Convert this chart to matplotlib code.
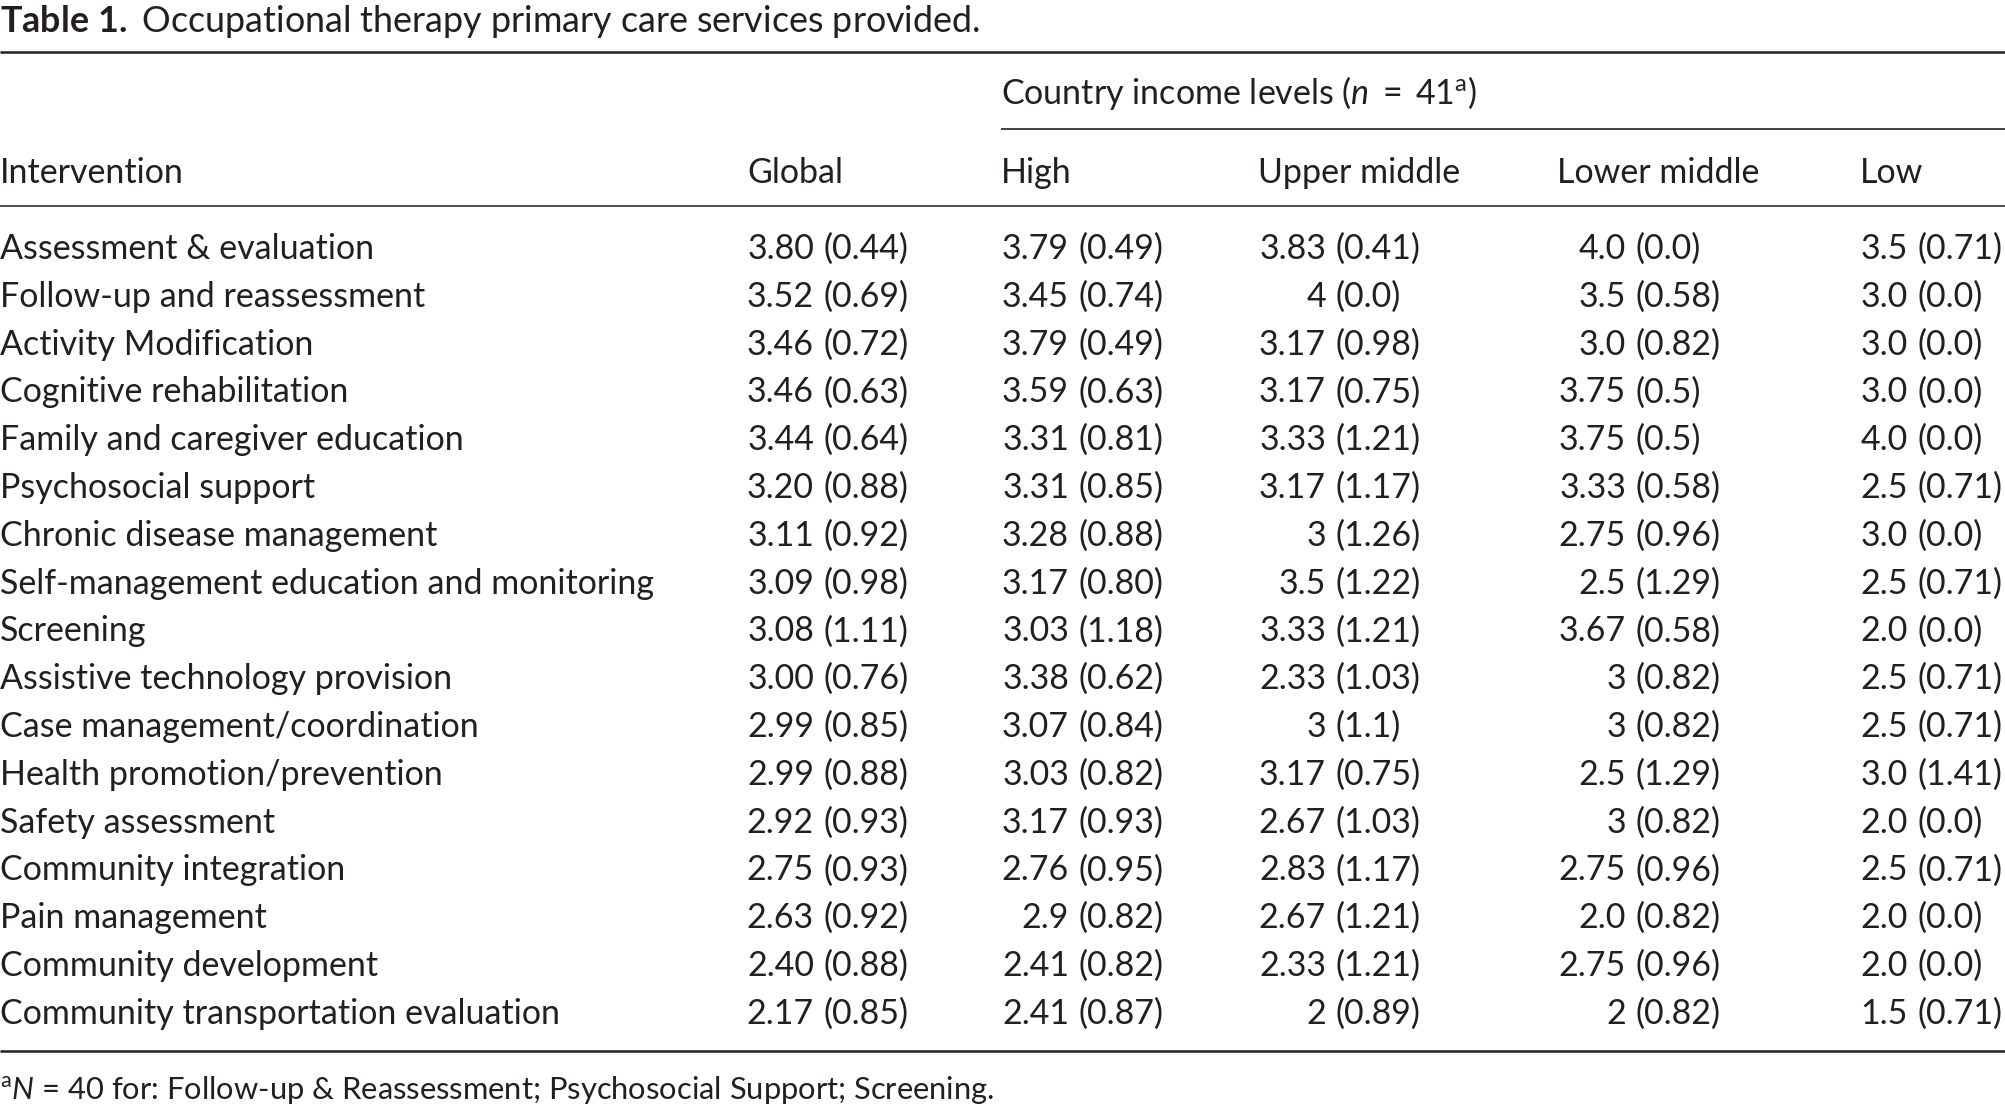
import matplotlib
matplotlib.use("Agg")
import matplotlib.pyplot as plt

plt.rcParams['font.family'] = ['Lato', 'DejaVu Sans']
plt.rcParams['mathtext.fontset'] = 'custom'
plt.rcParams['mathtext.rm'] = 'Lato'
plt.rcParams['mathtext.it'] = 'Lato:italic'
plt.rcParams['mathtext.bf'] = 'Lato:bold'

### ---------------------------------------------------------------------- ###
### table data (mean and SD kept as printed)

interventions = [
    "Assessment & evaluation",
    "Follow-up and reassessment",
    "Activity Modification",
    "Cognitive rehabilitation",
    "Family and caregiver education",
    "Psychosocial support",
    "Chronic disease management",
    "Self-management education and monitoring",
    "Screening",
    "Assistive technology provision",
    "Case management/coordination",
    "Health promotion/prevention",
    "Safety assessment",
    "Community integration",
    "Pain management",
    "Community development",
    "Community transportation evaluation",
]

global_mean = ["3.80", "3.52", "3.46", "3.46", "3.44", "3.20", "3.11", "3.09", "3.08",
               "3.00", "2.99", "2.99", "2.92", "2.75", "2.63", "2.40", "2.17"]
global_sd = ["0.44", "0.69", "0.72", "0.63", "0.64", "0.88", "0.92", "0.98", "1.11",
             "0.76", "0.85", "0.88", "0.93", "0.93", "0.92", "0.88", "0.85"]

high_mean = ["3.79", "3.45", "3.79", "3.59", "3.31", "3.31", "3.28", "3.17", "3.03",
             "3.38", "3.07", "3.03", "3.17", "2.76", "2.9", "2.41", "2.41"]
high_sd = ["0.49", "0.74", "0.49", "0.63", "0.81", "0.85", "0.88", "0.80", "1.18",
           "0.62", "0.84", "0.82", "0.93", "0.95", "0.82", "0.82", "0.87"]

upper_mean = ["3.83", "4", "3.17", "3.17", "3.33", "3.17", "3", "3.5", "3.33",
              "2.33", "3", "3.17", "2.67", "2.83", "2.67", "2.33", "2"]
upper_sd = ["0.41", "0.0", "0.98", "0.75", "1.21", "1.17", "1.26", "1.22", "1.21",
            "1.03", "1.1", "0.75", "1.03", "1.17", "1.21", "1.21", "0.89"]

lower_mean = ["4.0", "3.5", "3.0", "3.75", "3.75", "3.33", "2.75", "2.5", "3.67",
              "3", "3", "2.5", "3", "2.75", "2.0", "2.75", "2"]
lower_sd = ["0.0", "0.58", "0.82", "0.5", "0.5", "0.58", "0.96", "1.29", "0.58",
            "0.82", "0.82", "1.29", "0.82", "0.96", "0.82", "0.96", "0.82"]

low_mean = ["3.5", "3.0", "3.0", "3.0", "4.0", "2.5", "3.0", "2.5", "2.0",
            "2.5", "2.5", "3.0", "2.0", "2.5", "2.0", "2.0", "1.5"]
low_sd = ["0.71", "0.0", "0.0", "0.0", "0.0", "0.71", "0.0", "0.71", "0.0",
          "0.71", "0.71", "1.41", "0.0", "0.71", "0.0", "0.0", "0.71"]

col_names = ["Global", "High", "Upper middle", "Lower middle", "Low"]
col_means = [global_mean, high_mean, upper_mean, lower_mean, low_mean]
col_sds = [global_sd, high_sd, upper_sd, lower_sd, low_sd]

### ---------------------------------------------------------------------- ###
### layout (pixel coordinates, y downwards)

W, H = 2005, 1107
ink = '#231f20'
fs = 24.5

col_left = [747, 1001, 1258, 1557, 1860]   # header text left edge
paren_x = [824, 1079, 1336, 1636, 1918]    # where the "(" of the SD starts
gap = 10

row0 = 259
row_step = 47.8

fig = plt.figure(figsize=(W / 100, H / 100), dpi=100)
ax = fig.add_axes([0, 0, 1, 1])
ax.set_xlim(0, W)
ax.set_ylim(H, 0)
ax.axis('off')

# caption
ax.text(0, 32, r"$\mathbf{Table\ 1.}$ Occupational therapy primary care services provided.",
        fontsize=25.8, color=ink, ha='left', va='baseline')

# rules
ax.plot([0, W], [52, 52], color=ink, lw=1.8, solid_capstyle='butt')
ax.plot([col_left[1], W], [129, 129], color=ink, lw=1.2, solid_capstyle='butt')
ax.plot([0, W], [206, 206], color=ink, lw=1.1, solid_capstyle='butt')
ax.plot([0, W], [1051, 1051], color=ink, lw=1.8, solid_capstyle='butt')

# spanner header
ax.text(col_left[1], 104,
        r"Country income levels ($\mathit{n}\,$ = $\,$41$^{\mathrm{a}}$)",
        fontsize=fs, color=ink, ha='left', va='baseline')

# column headers
ax.text(0, 183, "Intervention", fontsize=fs, color=ink, ha='left', va='baseline')
for name, x in zip(col_names, col_left):
    ax.text(x, 183, name, fontsize=fs, color=ink, ha='left', va='baseline')

# body
for i, label in enumerate(interventions):
    y = row0 + i * row_step
    ax.text(0, y, label, fontsize=fs, color=ink, ha='left', va='baseline')
    for means, sds, px in zip(col_means, col_sds, paren_x):
        ax.text(px - gap, y, means[i], fontsize=fs, color=ink, ha='right', va='baseline')
        ax.text(px, y, "(" + sds[i] + ")", fontsize=fs, color=ink, ha='left', va='baseline')

# footnote
ax.text(0, 1099, r"${}^{\mathrm{a}}\mathit{N}$ = 40 for: Follow-up & Reassessment; Psychosocial Support; Screening.",
        fontsize=22.2, color=ink, ha='left', va='baseline')

fig.savefig("out.png", dpi=100, facecolor='white')
